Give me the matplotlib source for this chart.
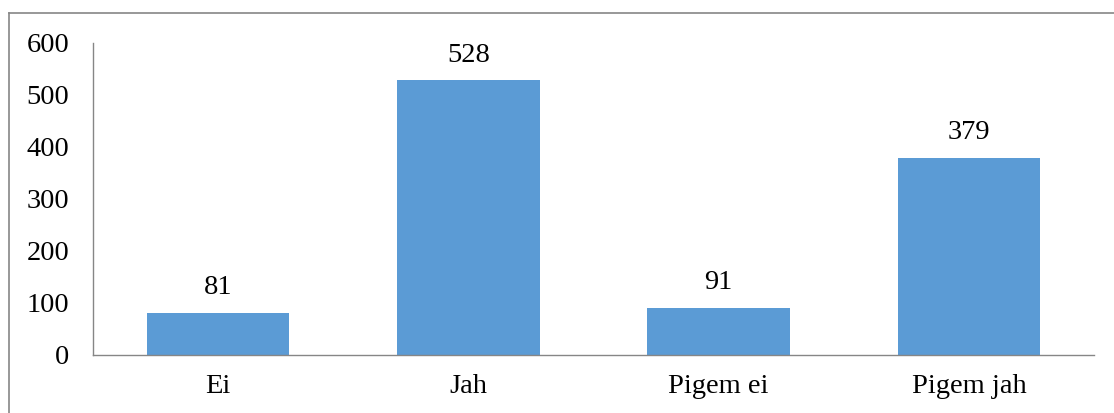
import matplotlib.pyplot as plt
from matplotlib.lines import Line2D

categories = ['Ei', 'Jah', 'Pigem ei', 'Pigem jah']
counts = [81, 528, 91, 379]

plt.rcParams['font.family'] = 'Liberation Serif'
plt.rcParams['font.size'] = 20.5

W, H = 1114, 413
fig = plt.figure(figsize=(W / 100, H / 100), dpi=100)
ax = fig.add_axes([93 / W, 1 - 355 / H, (1094 - 93) / W, (355 - 43) / H])

x = range(len(categories))
bars = ax.bar(x, counts, width=0.57, color='#5B9BD5')
for b, v in zip(bars, counts):
    ax.annotate(str(v), (b.get_x() + b.get_width() / 2, v),
                xytext=(0, 9), textcoords='offset points',
                ha='center', va='bottom')

ax.set_xlim(-0.5, len(categories) - 0.5)
ax.set_ylim(0, 600)
ax.set_yticks(range(0, 601, 100))
ax.set_xticks(list(x))
ax.set_xticklabels(categories)
ax.tick_params(length=0)
ax.tick_params(axis='y', pad=17)
ax.tick_params(axis='x', pad=14)
for s in ['top', 'right']:
    ax.spines[s].set_visible(False)
for s in ['left', 'bottom']:
    ax.spines[s].set_color('#868686')
    ax.spines[s].set_linewidth(1)

# outer chart-area frame (only left and top visible in the crop)
fig.add_artist(Line2D([9 / W, 9 / W], [0, 1 - 13 / H], transform=fig.transFigure,
                      color='#868686', lw=1.2))
fig.add_artist(Line2D([9 / W, 1], [1 - 13 / H, 1 - 13 / H], transform=fig.transFigure,
                      color='#868686', lw=1.2))

fig.savefig('out.png', dpi=100)
